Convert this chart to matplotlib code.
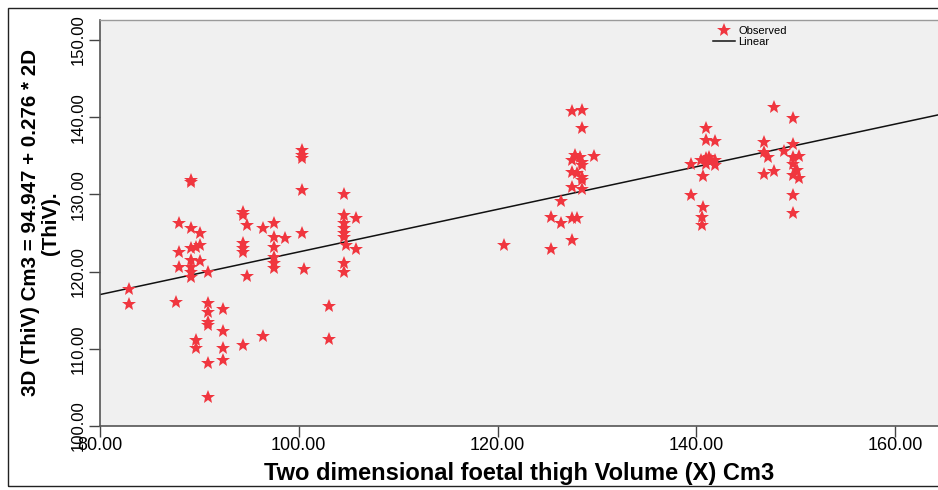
import numpy as np
import matplotlib.pyplot as plt
from matplotlib.patches import Rectangle

# 2D thigh volume (x) and 3D thigh volume (y), in cm3
vol_2d = [
    82.9, 82.9, 87.6, 87.9, 87.9, 87.9,
    89.2, 89.2, 89.2, 89.2, 89.2, 89.2, 89.2, 89.2,
    89.7, 89.7, 89.7, 90.1, 90.1, 90.1,
    90.9, 90.9, 90.9, 90.9, 90.9, 90.9, 90.9,
    92.4, 92.4, 92.4, 92.4,
    94.4, 94.4, 94.8, 94.4, 94.4, 94.4, 94.4, 94.8,
    96.4, 96.4,
    97.5, 97.5, 97.5, 97.5, 97.5, 97.5, 98.6,
    100.3, 100.3, 100.3, 100.3, 100.3, 100.5,
    103.0, 103.0,
    104.5, 104.5, 104.5, 104.5, 104.5, 104.5, 104.7, 104.5, 104.5,
    105.8, 105.8,
    120.6,
    125.4, 125.4, 126.4, 126.4,
    127.5, 127.5, 127.5, 127.5, 127.5, 127.5, 127.8, 128.0, 128.0, 128.3,
    128.5, 128.5, 128.5, 128.5, 128.5, 128.5, 128.5, 129.7,
    139.5, 139.5, 140.5, 140.6, 140.6, 140.7, 140.7,
    141.0, 141.0, 141.0, 141.0, 141.3, 141.5, 141.9, 141.9, 141.9,
    146.8, 146.8, 146.8, 147.2, 147.8, 147.8, 148.8,
    149.7, 149.7, 149.7, 149.7, 149.7, 149.7, 149.7, 150.1, 150.3, 150.3,
]
vol_3d = [
    117.7, 115.8, 116.0, 126.3, 122.6, 120.6,
    131.9, 131.6, 125.6, 123.0, 121.5, 120.6, 120.0, 119.3,
    123.2, 111.1, 110.1, 125.0, 123.4, 121.4,
    119.9, 115.9, 114.8, 113.5, 113.1, 108.1, 103.7,
    115.2, 112.3, 110.1, 108.6,
    127.7, 127.3, 126.0, 123.7, 123.0, 122.6, 110.5, 119.4,
    125.7, 111.7,
    126.3, 124.5, 123.2, 121.9, 121.1, 120.5, 124.4,
    135.8, 135.1, 134.7, 130.6, 125.0, 120.3,
    115.6, 111.3,
    130.0, 127.3, 126.3, 125.6, 125.0, 124.5, 123.4, 121.1, 120.0,
    126.9, 122.9,
    123.4,
    127.1, 122.9, 129.1, 126.3,
    140.8, 134.5, 132.9, 130.9, 127.0, 124.1, 135.1, 132.8, 126.9, 134.9,
    140.9, 138.6, 134.2, 133.8, 132.3, 131.9, 130.7, 135.0,
    133.9, 129.9, 134.4, 127.1, 126.0, 132.4, 128.4,
    138.6, 137.0, 134.7, 134.0, 134.9, 134.5, 136.9, 134.5, 133.8,
    136.8, 135.5, 132.7, 134.8, 141.3, 133.0, 135.6,
    129.9, 139.9, 136.5, 134.9, 134.0, 132.5, 127.6, 133.2, 135.0, 132.1,
]

# fitted linear model: 3D = 94.947 + 0.276 * 2D
intercept = 94.947
slope = 0.276

x_ticks = [80, 100, 120, 140, 160]
y_ticks = [100, 110, 120, 130, 140, 150]

plt.rcParams['font.family'] = ['Liberation Sans', 'DejaVu Sans']

W, H = 938, 490
fig = plt.figure(figsize=(W / 100, H / 100), dpi=100)
fig.patch.set_facecolor('white')

# outer frame around the whole chart
fig.patches.append(Rectangle((8 / W, 1 - 486 / H), 1.2, (486 - 8) / H,
                             transform=fig.transFigure, fill=False,
                             edgecolor='#222222', linewidth=1.0))

ax = fig.add_axes([100 / W, 1 - 426 / H, (W - 100) / W, (426 - 20) / H])
ax.set_facecolor('#F0F0F0')

xmin = 80
xmax = 80 + (W - 100) / 9.94
ax.set_xlim(xmin, xmax)
ax.set_ylim(100, 150 + 20 / 7.72)

xs = np.array([xmin, xmax])
ax.plot(xs, intercept + slope * xs, color='#111111', linewidth=1.1,
        label='Linear', zorder=2)
ax.plot(vol_2d, vol_3d, linestyle='none', marker='*', markersize=10,
        color='#F0363F', markeredgewidth=0, label='Observed', zorder=3)

ax.set_xticks(x_ticks)
ax.set_xticklabels([f'{v:.2f}' for v in x_ticks])
ax.set_yticks(y_ticks)
ax.set_yticklabels([f'{v:.2f}' for v in y_ticks], rotation=90, va='center')

ax.tick_params(axis='both', direction='out', length=8, width=1,
               color='#444444', labelcolor='black')
ax.tick_params(axis='x', labelsize=13, pad=0)
ax.tick_params(axis='y', labelsize=12, pad=2)

for side in ['left', 'bottom']:
    ax.spines[side].set_color('#555555')
    ax.spines[side].set_linewidth(1.2)
ax.spines['top'].set_color('#9a9a9a')
ax.spines['top'].set_linewidth(1.0)
ax.spines['right'].set_visible(False)

ax.set_xlabel('Two dimensional foetal thigh Volume (X) Cm3',
              fontsize=17, fontweight='bold', labelpad=6)
ax.set_ylabel('3D (ThiV) Cm3 = 94.947 + 0.276 * 2D\n(ThiV).',
              fontsize=14.8, fontweight='bold', labelpad=8, linespacing=1.05)

handles, labels = ax.get_legend_handles_labels()
ax.legend(handles[::-1], labels[::-1], loc='upper left',
          bbox_to_anchor=(0.722, 1.005), frameon=False, fontsize=8,
          handlelength=2.0, handletextpad=0.3, labelspacing=0.1,
          borderpad=0.2)

fig.savefig('out.png', dpi=100)
